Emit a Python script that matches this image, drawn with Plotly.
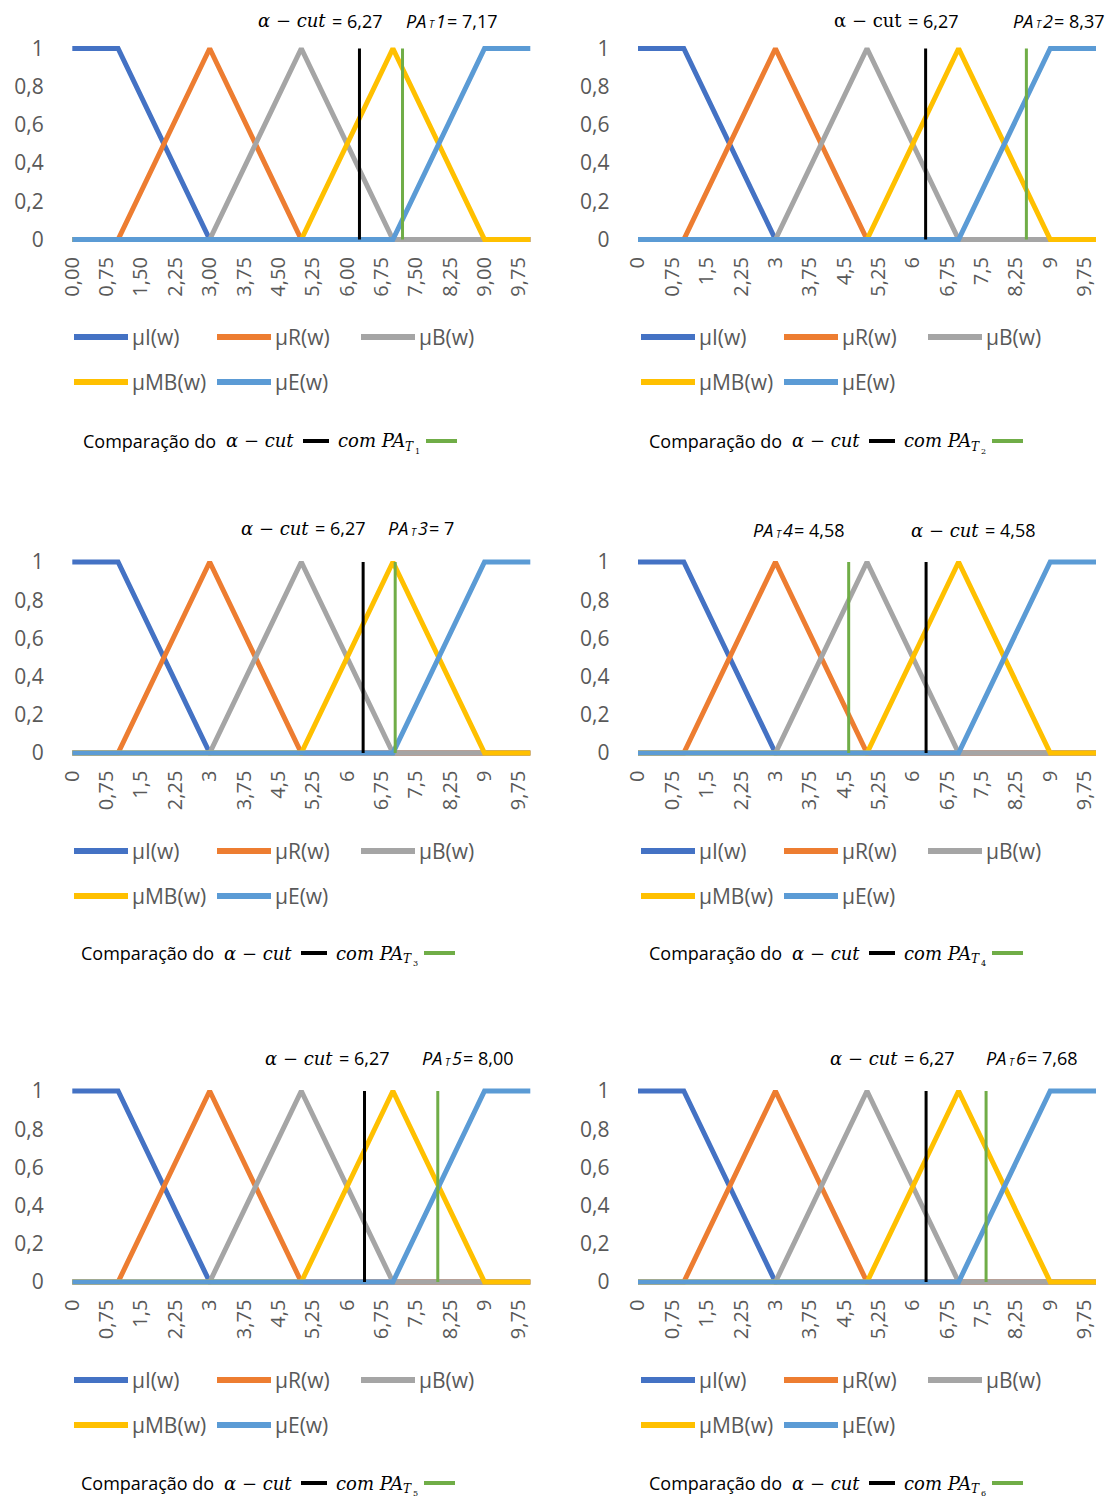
import plotly.graph_objects as go

# ---------------- data ----------------
x_pts = [0, 1, 3, 5, 7, 9, 10]
mu_I = [1, 1, 0, 0, 0, 0, 0]
mu_R = [0, 0, 1, 0, 0, 0, 0]
mu_B = [0, 0, 0, 1, 0, 0, 0]
mu_MB = [0, 0, 0, 0, 1, 0, 0]
mu_E = [0, 0, 0, 0, 0, 1, 1]
series_values = [mu_I, mu_R, mu_B, mu_MB, mu_E]
series_names = ["μI(w)", "μR(w)", "μB(w)", "μMB(w)", "μE(w)"]
series_colors = ["#4472C4", "#ED7D31", "#A5A5A5", "#FFC000", "#5B9BD5"]

# vertical comparison lines (positions)
alpha_cut_pos = [6.27, 6.28, 6.35, 6.29, 6.38, 6.29]
pa_pos = [7.21, 8.48, 7.05, 4.60, 7.98, 7.60]
vline_y = [0, 1]

# labels as printed on the chart
alpha_labels = ["6,27", "6,27", "6,27", "4,58", "6,27", "6,27"]
pa_labels = ["7,17", "8,37", "7", "4,58", "8,00", "7,68"]
panel_numbers = ["1", "2", "3", "4", "5", "6"]

x_tick_vals = [0, 0.75, 1.5, 2.25, 3, 3.75, 4.5, 5.25, 6, 6.75, 7.5, 8.25, 9, 9.75]
x_tick_text_first = ["0,00", "0,75", "1,50", "2,25", "3,00", "3,75", "4,50", "5,25",
                     "6,00", "6,75", "7,50", "8,25", "9,00", "9,75"]
x_tick_text = ["0", "0,75", "1,5", "2,25", "3", "3,75", "4,5", "5,25",
               "6", "6,75", "7,5", "8,25", "9", "9,75"]
y_tick_vals = [0, 0.2, 0.4, 0.6, 0.8, 1]
y_tick_text = ["0", "0,2", "0,4", "0,6", "0,8", "1"]

# ---------------- layout geometry (page pixels) ----------------
PAGE_W, PAGE_H = 1114, 1501
OFF = 8                      # default body margin of the html page
W, H = PAGE_W - OFF, PAGE_H - OFF
SANS = "Open Sans"
SERIF = "DejaVu Serif"
GREY_TXT = "#595959"

ox = [72.3, 638, 72.3, 638, 72.3, 638]          # pixel of x = 0
SX = 45.8                                          # pixels per x unit
y_one = [48.5, 48.5, 562, 562, 1091, 1091]         # pixel of y = 1
y_zero = [239.5, 239.5, 753, 753, 1282, 1282]      # pixel of y = 0


def px(x):
    return (x - OFF) / W


def py(y):
    return 1 - (y - OFF) / H


fig = go.Figure()
XPAD, YPAD = 0.12, 0.035
layout_axes = {}
for i in range(6):
    suf = "" if i == 0 else str(i + 1)
    xref, yref = "x" + suf, "y" + suf
    sy = y_zero[i] - y_one[i]
    x_lo = ox[i] - XPAD * SX
    x_hi = ox[i] + (10 + XPAD) * SX
    y_top = y_one[i] - YPAD * sy
    y_bot = y_zero[i] + YPAD * sy
    layout_axes["xaxis" + suf] = dict(
        domain=[px(x_lo), px(x_hi)], range=[-XPAD, 10 + XPAD], anchor=yref,
        tickmode="array", tickvals=x_tick_vals,
        ticktext=x_tick_text_first if i == 0 else x_tick_text,
        tickangle=-90, showgrid=False, zeroline=False, showline=False, ticks="",
        tickfont=dict(family=SANS, size=20, color=GREY_TXT), ticklabelstandoff=6,
        automargin=False, fixedrange=True,
    )
    layout_axes["yaxis" + suf] = dict(
        domain=[py(y_bot), py(y_top)], range=[-YPAD, 1 + YPAD], anchor=xref,
        tickmode="array", tickvals=y_tick_vals, ticktext=y_tick_text,
        showgrid=False, zeroline=False, showline=False, ticks="",
        tickfont=dict(family=SANS, size=21, color=GREY_TXT), ticklabelstandoff=22,
        automargin=False, fixedrange=True,
    )
    for vals, name, col in zip(series_values, series_names, series_colors):
        fig.add_trace(go.Scatter(x=x_pts, y=vals, mode="lines", name=name,
                                 line=dict(color=col, width=5),
                                 xaxis=xref, yaxis=yref, showlegend=False,
                                 hoverinfo="skip"))
    fig.add_trace(go.Scatter(x=[alpha_cut_pos[i]] * 2, y=vline_y, mode="lines",
                             line=dict(color="#000000", width=3),
                             xaxis=xref, yaxis=yref, showlegend=False, hoverinfo="skip"))
    fig.add_trace(go.Scatter(x=[pa_pos[i]] * 2, y=vline_y, mode="lines",
                             line=dict(color="#70AD47", width=3),
                             xaxis=xref, yaxis=yref, showlegend=False, hoverinfo="skip"))

annotations = []
shapes = []


def txt(x, y, s, family=SANS, size=18, color="#000000", style="normal"):
    annotations.append(dict(x=px(x), y=py(y), xref="paper", yref="paper",
                            xanchor="left", yanchor="middle", showarrow=False, text=s,
                            borderpad=0,
                            font=dict(family=family, size=size, color=color, style=style)))


def seg(x0, x1, y, color, width):
    shapes.append(dict(type="line", xref="paper", yref="paper",
                       x0=px(x0), x1=px(x1), y0=py(y), y1=py(y),
                       line=dict(color=color, width=width)))


# ---- top labels ----
alpha_txt_x = [257, 833, 240, 910, 264, 829]
pa_txt_x = [405, 1012, 387, 752, 421, 985]
top_y = [20.5, 20.5, 528, 530, 1058, 1058]
for i in range(6):
    a = alpha_txt_x[i]
    yy = top_y[i]
    txt(a, yy, "α − cut", family=SERIF, size=18, style="normal" if i == 1 else "italic")
    txt(a + 74, yy, "= " + alpha_labels[i], size=18)
    s = pa_txt_x[i]
    txt(s, yy, "PA", size=18, style="italic")
    txt(s + 23, yy + 4, "T", size=10, style="italic")
    txt(s + 30, yy, panel_numbers[i], size=18, style="italic")
    txt(s + 41, yy, "= " + pa_labels[i], size=18)

# ---- legends (drawn per panel) ----
leg_x0 = [73, 640, 73, 640, 73, 640]
leg_rows = [[337, 382], [337, 382], [851, 896], [851, 896], [1380, 1425], [1380, 1425]]
leg_slots = [(0, 0), (0, 143), (0, 287), (1, 0), (1, 143)]
for i in range(6):
    for (row, dx), name, col in zip(leg_slots, series_names, series_colors):
        yy = leg_rows[i][row]
        x0 = leg_x0[i] + dx
        seg(x0 + 1, x0 + 55, yy, col, 6)
        txt(x0 + 58, yy, name, size=21, color=GREY_TXT)

# ---- captions ----
cap_x = [82, 648, 80, 648, 80, 648]
cap_y = [441, 441, 953, 953, 1483, 1483]
for i in range(6):
    x0, yy = cap_x[i], cap_y[i]
    txt(x0, yy, "Comparação do", size=18)
    txt(x0 + 143, yy, "α − cut", family=SERIF, size=18, style="italic")
    seg(x0 + 221, x0 + 247, yy, "#000000", 4)
    txt(x0 + 255, yy, "com PA", family=SERIF, size=18, style="italic")
    txt(x0 + 322, yy + 6, "T", family=SERIF, size=12, style="italic")
    txt(x0 + 332, yy + 10, panel_numbers[i], family=SERIF, size=8)
    seg(x0 + 344, x0 + 375, yy, "#70AD47", 4)

fig.update_layout(
    width=W, height=H, margin=dict(l=0, r=0, t=0, b=0, autoexpand=False),
    paper_bgcolor="#FFFFFF", plot_bgcolor="#FFFFFF",
    showlegend=False, annotations=annotations, shapes=shapes,
    **layout_axes,
)

fig.write_html("out.html")
